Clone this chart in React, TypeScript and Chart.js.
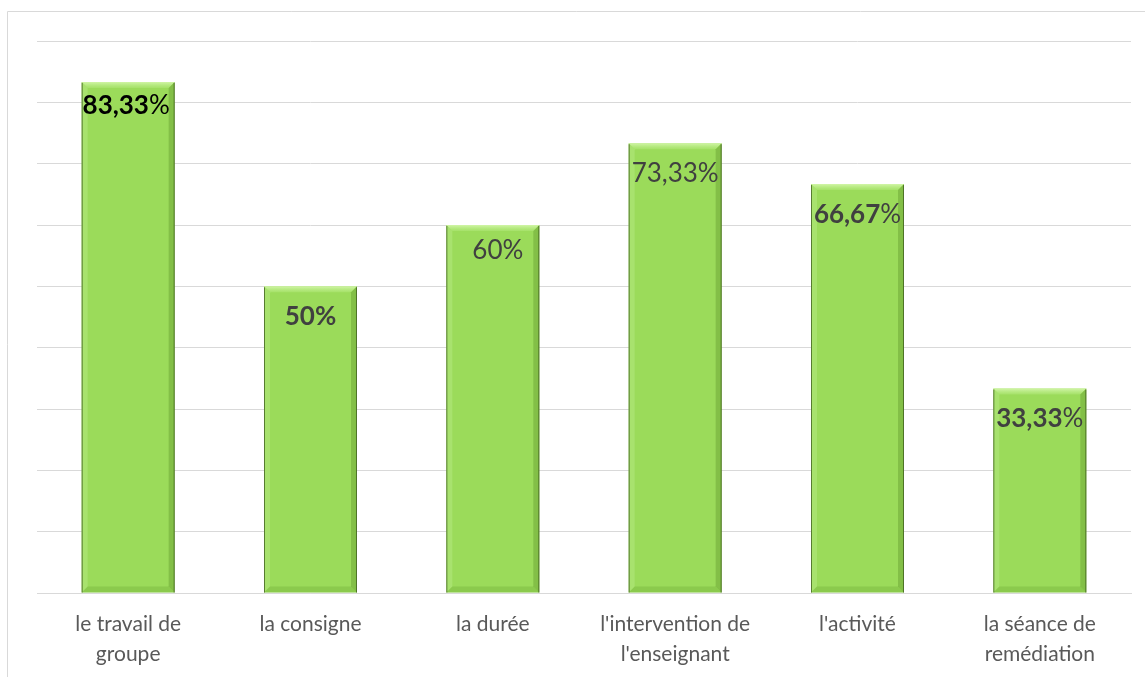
import React, { useEffect, useRef } from "react";
import { Chart, registerables } from "chart.js";

Chart.register(...registerables);

const categories: string[][] = [
  ["le travail de", "groupe"],
  ["la consigne"],
  ["la durée"],
  ["l'intervention de", "l'enseignant"],
  ["l'activité"],
  ["la séance de", "remédiation"],
];
const values: number[] = [83.33, 50, 60, 73.33, 66.67, 33.33];
const valueTexts: string[] = ["83,33", "50", "60", "73,33", "66,67", "33,33"];
const yMax = 90;
const yStep = 10;

// label styling (style config, not data)
const numberBold = [true, true, false, false, true, true];
const percentBold = [false, true, false, false, false, false];
const labelColors = ["#000000", "#404040", "#404040", "#404040", "#404040", "#404040"];
const labelDy = [24, 30, 26, 30, 31, 30];
const labelDx = [-2, 0, 5, 0, 0, 0];

const FONT = "Lato, 'Open Sans', sans-serif";

const framePlugin = {
  id: "frame",
  beforeDraw(chart: any) {
    const ctx = chart.ctx;
    ctx.save();
    ctx.strokeStyle = "#D9D9D9";
    ctx.lineWidth = 1;
    ctx.beginPath();
    ctx.moveTo(7.5, 677);
    ctx.lineTo(7.5, 11.5);
    ctx.lineTo(1145, 11.5);
    ctx.stroke();
    ctx.restore();
  },
};

const bevelPlugin = {
  id: "bevel",
  afterDatasetsDraw(chart: any) {
    const ctx = chart.ctx;
    const meta = chart.getDatasetMeta(0);
    meta.data.forEach((bar: any) => {
      const { x, y, base, width } = bar.getProps(["x", "y", "base", "width"], true);
      const l = x - width / 2;
      const r = x + width / 2;
      const t = y;
      const b = base;
      const bw = 6;
      ctx.save();
      const tg = ctx.createLinearGradient(0, t, 0, t + bw);
      tg.addColorStop(0, "rgba(215,248,175,0.9)");
      tg.addColorStop(1, "rgba(190,240,140,0.3)");
      ctx.fillStyle = tg;
      ctx.beginPath();
      ctx.moveTo(l, t);
      ctx.lineTo(r, t);
      ctx.lineTo(r - bw, t + bw);
      ctx.lineTo(l + bw, t + bw);
      ctx.closePath();
      ctx.fill();
      ctx.fillStyle = "rgba(185,235,135,0.45)";
      ctx.beginPath();
      ctx.moveTo(l, t);
      ctx.lineTo(l + bw, t + bw);
      ctx.lineTo(l + bw, b - bw);
      ctx.lineTo(l, b);
      ctx.closePath();
      ctx.fill();
      ctx.fillStyle = "rgba(70,120,20,0.28)";
      ctx.beginPath();
      ctx.moveTo(r, t);
      ctx.lineTo(r - bw, t + bw);
      ctx.lineTo(r - bw, b - bw);
      ctx.lineTo(r, b);
      ctx.closePath();
      ctx.fill();
      ctx.fillStyle = "rgba(90,150,40,0.25)";
      ctx.beginPath();
      ctx.moveTo(l, b);
      ctx.lineTo(l + bw, b - bw);
      ctx.lineTo(r - bw, b - bw);
      ctx.lineTo(r, b);
      ctx.closePath();
      ctx.fill();
      ctx.strokeStyle = "rgba(60,90,30,0.75)";
      ctx.lineWidth = 1;
      ctx.beginPath();
      ctx.moveTo(l + 0.5, t + 1);
      ctx.lineTo(l + 0.5, b);
      ctx.moveTo(r - 0.5, t + 1);
      ctx.lineTo(r - 0.5, b);
      ctx.stroke();
      ctx.restore();
    });
  },
  afterDraw(chart: any) {
    const ctx = chart.ctx;
    const meta = chart.getDatasetMeta(0);
    meta.data.forEach((bar: any, i: number) => {
      const { x, y } = bar.getProps(["x", "y"], true);
      const numFont = `${numberBold[i] ? "bold " : ""}26px ${FONT}`;
      const pctFont = `${percentBold[i] ? "bold " : ""}26px ${FONT}`;
      ctx.save();
      ctx.textBaseline = "middle";
      ctx.fillStyle = labelColors[i];
      ctx.font = numFont;
      const w1 = ctx.measureText(valueTexts[i]).width;
      ctx.font = pctFont;
      const w2 = ctx.measureText("%").width;
      const startX = x + labelDx[i] - (w1 + w2) / 2;
      const ty = y + labelDy[i];
      ctx.textAlign = "left";
      ctx.font = numFont;
      ctx.fillText(valueTexts[i], startX, ty);
      ctx.font = pctFont;
      ctx.fillText("%", startX + w1, ty);
      ctx.restore();
    });
  },
};

export default function App() {
  const ref = useRef<HTMLCanvasElement | null>(null);
  useEffect(() => {
    if (!ref.current) return;
    const chart = new Chart(ref.current, {
      type: "bar",
      data: {
        labels: categories,
        datasets: [
          {
            data: values,
            backgroundColor: "#9BDB5A",
            borderWidth: 0,
            barPercentage: 0.51,
            categoryPercentage: 1,
          },
        ],
      },
      options: {
        responsive: false,
        animation: false,
        devicePixelRatio: 1,
        layout: { padding: { left: 37, right: 14, top: 41, bottom: 0 } },
        plugins: { legend: { display: false }, tooltip: { enabled: false } },
        scales: {
          x: {
            grid: { display: false, drawTicks: false, tickLength: 0 },
            border: { display: true, color: "#D9D9D9", width: 1 },
            ticks: {
              color: "#595959",
              font: { family: FONT, size: 21, lineHeight: "30px" as any },
              padding: 16,
              maxRotation: 0,
              autoSkip: false,
            },
            afterFit(scale: any) {
              scale.height = 84;
            },
          },
          y: {
            min: 0,
            max: yMax,
            ticks: { display: false, stepSize: yStep },
            grid: { color: "#D9D9D9", lineWidth: 1, drawTicks: false, tickLength: 0 },
            border: { display: false },
            afterFit(scale: any) {
              scale.width = 0;
            },
          },
        },
      },
      plugins: [framePlugin, bevelPlugin],
    });
    return () => chart.destroy();
  }, []);
  return (
    <div style={{ position: "absolute", left: 0, top: 0, width: 1145, height: 677, background: "#fff" }}>
      <canvas ref={ref} width={1145} height={677} style={{ display: "block" }} />
    </div>
  );
}
